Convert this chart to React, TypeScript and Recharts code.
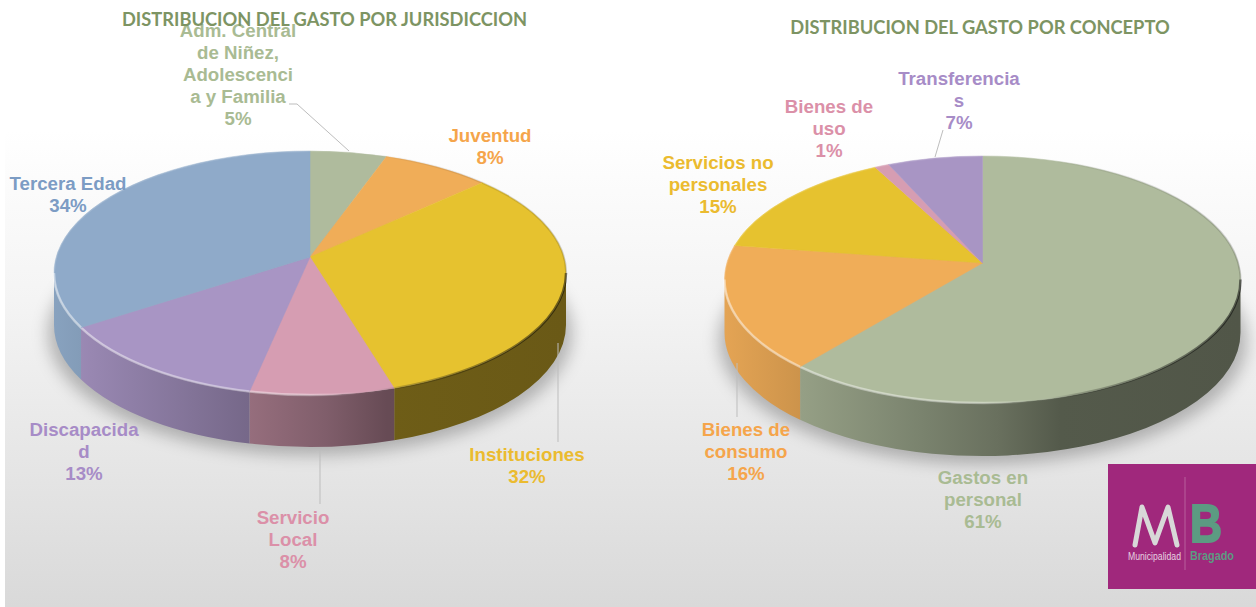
import React from 'react';
import { PieChart, Pie } from 'recharts';

// first chart: gasto por jurisdiccion
const jurisdiccionNames = ['Adm. Central de Niñez', 'Juventud', 'Instituciones', 'Servicio Local', 'Discapacidad', 'Tercera Edad'];
const jurisdiccionValues = [5.4, 7.6, 32.3, 8.3, 12.8, 33.9];
const jurisdiccionLines = [
  ['Adm. Central', 'de Niñez,', 'Adolescenci', 'a y Familia'],
  ['Juventud'],
  ['Instituciones'],
  ['Servicio', 'Local'],
  ['Discapacida', 'd'],
  ['Tercera Edad'],
];

// second chart: gasto por concepto
const conceptoNames = ['Gastos en personal', 'Bienes de consumo', 'Servicios no personales', 'Bienes de uso', 'Transferencias'];
const conceptoValues = [61.4, 16.4, 14.6, 1.0, 6.6];
const conceptoLines = [
  ['Gastos en', 'personal'],
  ['Bienes de', 'consumo'],
  ['Servicios no', 'personales'],
  ['Bienes de', 'uso'],
  ['Transferencia', 's'],
];

const jurisdiccionFills = ['#afbb9d', '#f0ad58', '#e6c22f', '#d69db2', '#a895c4', '#8faac9'];
const jurisdiccionText = ['#a9bb93', '#f5a54b', '#ebbb2f', '#db90a8', '#a78cc7', '#7c9cc4'];
const conceptoFills = ['#afbb9d', '#f0ad58', '#e6c22f', '#d69db2', '#a895c4'];
const conceptoText = ['#a9bb93', '#f5a54b', '#ebbb2f', '#db90a8', '#a78cc7'];

// label anchors: [center x, first baseline] in chart coordinates
const jurisdiccionSpots = [[238, 37], [490, 142], [527, 461], [293, 524], [84, 436], [68, 190]];
const conceptoSpots = [[355, 484], [118, 436], [90, 169], [201, 113], [331, 85]];

// leader lines as svg points, chart coordinates
const jurisdiccionLeaders = ['289,104 297,104 349,151', null, '558,343 558,442', '320,450 320,504', null, null];
const conceptoLeaders = [null, '109,363 109,417', null, null, '315,130 307,157'];

const wallLight = [[0, 0.95], [0.15, 0.85], [0.38, 0.7], [0.53, 0.6], [0.65, 0.48], [1, 0.46]];

const shade = (hex: string, k: number) => {
  const n = parseInt(hex.slice(1), 16);
  const c = (v: number) => Math.round(v * k);
  return `rgb(${c((n >> 16) & 255)},${c((n >> 8) & 255)},${c(n & 255)})`;
};

// perspective: the near side of the tilted disc looks stretched
const warp = (deg: number) => {
  const t = 90 - deg;
  return 90 - (t - 6 * Math.sin((t * Math.PI) / 180));
};

const LINE_H = 22;

interface Pie3DProps {
  id: string;
  left: number;
  names: string[];
  values: number[];
  fills: string[];
  textColors: string[];
  lines: string[][];
  spots: number[][];
  leaders: (string | null)[];
  cx: number;
  cy: number;
  rx: number;
  ry: number;
  apexLift: number;
  depth: number;
}

function Pie3D(props: Pie3DProps) {
  const { id, left, names, values, fills, textColors, lines, spots, leaders, cx, cy, rx, ry, apexLift, depth } = props;
  const data = names.map((name, i) => ({ name, value: values[i], fill: fills[i] }));

  const pt = (deg: number, dy = 0) => {
    const a = (deg * Math.PI) / 180;
    return `${(cx + rx * Math.cos(a)).toFixed(2)} ${(cy - ry * Math.sin(a) + dy).toFixed(2)}`;
  };

  const renderWall = (s: any) => {
    const a0 = Math.min(warp(s.startAngle), 0);
    const a1 = Math.max(warp(s.endAngle), -180);
    if (a0 <= a1) return <g />;
    const gid = `${id}-wall-${s.fill.slice(1)}`;
    const d = `M ${pt(a0)} A ${rx} ${ry} 0 0 1 ${pt(a1)} L ${pt(a1, depth)} A ${rx} ${ry} 0 0 0 ${pt(a0, depth)} Z`;
    return (
      <g>
        <defs>
          <linearGradient id={gid} gradientUnits="userSpaceOnUse" x1={cx - rx} x2={cx + rx} y1={0} y2={0}>
            {wallLight.map(([o, k]) => (
              <stop key={o} offset={o} stopColor={shade(s.fill, k)} />
            ))}
          </linearGradient>
        </defs>
        <path d={d} fill={`url(#${gid})`} />
      </g>
    );
  };

  const renderTop = (s: any) => {
    const start = warp(s.startAngle);
    const end = warp(s.endAngle);
    const large = start - end > 180 ? 1 : 0;
    const arc = `M ${pt(start)} A ${rx} ${ry} 0 ${large} 1 ${pt(end)}`;
    const low0 = Math.min(start, 0);
    const low1 = Math.max(end, -180);
    return (
      <g>
        <defs>
          <linearGradient id={`${id}-rim`} gradientUnits="userSpaceOnUse" x1={cx - rx} x2={cx + rx} y1={0} y2={0}>
            <stop offset={0} stopColor="#fff" stopOpacity={0.4} />
            <stop offset={0.5} stopColor="#fff" stopOpacity={0.3} />
            <stop offset={0.6} stopColor="#fff" stopOpacity={0} />
            <stop offset={0.68} stopColor="#000" stopOpacity={0.15} />
            <stop offset={1} stopColor="#000" stopOpacity={0.45} />
          </linearGradient>
        </defs>
        <path d={`M ${cx} ${cy - apexLift} L ${arc.slice(2)} Z`} fill={s.fill} stroke={s.fill} strokeWidth={0.5} />
        <path d={arc} fill="none" stroke={`url(#${id}-rim)`} strokeOpacity={0.35} strokeWidth={2} />
        {low0 > low1 && (
          <path d={`M ${pt(low0)} A ${rx} ${ry} 0 0 1 ${pt(low1)}`} fill="none" stroke={`url(#${id}-rim)`} strokeWidth={2.5} />
        )}
      </g>
    );
  };

  const renderLabel = (p: any) => {
    const i = p.index;
    const [x, y] = spots[i];
    const rows = [...lines[i], `${Math.round(values[i])}%`];
    return (
      <g key={names[i]}>
        {leaders[i] && <polyline points={leaders[i] as string} fill="none" stroke="#bdbdbd" strokeWidth={1} />}
        <text x={x} y={y} textAnchor="middle" fill={textColors[i]} fontFamily="Liberation Sans" fontWeight="bold" fontSize={18.7}>
          {rows.map((r, k) => (
            <tspan key={k} x={x} y={y + k * LINE_H}>{r}</tspan>
          ))}
        </text>
      </g>
    );
  };

  return (
    <div style={{ position: 'absolute', left, top: 0 }}>
      <div
        style={{
          position: 'absolute',
          left: cx - rx - 6,
          top: cy - ry + depth + 8,
          width: 2 * rx + 12,
          height: 2 * ry,
          borderRadius: '50%',
          background: 'rgba(0,0,0,0.25)',
          filter: 'blur(8px)',
        }}
      />
      <PieChart width={628} height={607} style={{ position: 'relative' }}>
        <Pie
          data={data}
          dataKey="value"
          cx={cx}
          cy={cy}
          outerRadius={rx}
          startAngle={90}
          endAngle={-270}
          stroke="none"
          shape={renderWall}
          isAnimationActive={false}
        />
        <Pie
          data={data}
          dataKey="value"
          cx={cx}
          cy={cy}
          outerRadius={rx}
          startAngle={90}
          endAngle={-270}
          stroke="none"
          shape={renderTop}
          label={renderLabel}
          labelLine={false}
          isAnimationActive={false}
        />
      </PieChart>
    </div>
  );
}

function Title({ text, center, top }: { text: string; center: number; top: number }) {
  return (
    <div
      style={{
        position: 'absolute',
        left: center - 300,
        width: 600,
        top,
        textAlign: 'center',
        font: 'bold 18.3px Lato',
        color: '#7d9463',
        whiteSpace: 'nowrap',
      }}
    >
      {text}
    </div>
  );
}

function Logo() {
  return (
    <svg width={148} height={125} style={{ position: 'absolute', left: 1108, top: 464 }} viewBox="1108 464 148 125">
      <rect x={1108} y={464} width={148} height={125} fill="#a0287c" />
      <line x1={1185} x2={1185} y1={477} y2={570} stroke="#fff" strokeOpacity={0.25} />
      <polyline points="1135,545 1142,507 1155,543 1168,507 1177,545" fill="none" stroke="#d8d8d8" strokeWidth={5} strokeLinecap="round" strokeLinejoin="round" />
      <text x={1190} y={542} fontFamily="Liberation Sans" fontWeight="bold" fontSize={53} fill="#5c9b82" stroke="#5c9b82" strokeWidth={2} textLength={32} lengthAdjust="spacingAndGlyphs">B</text>
      <text x={1128} y={560} fontFamily="Liberation Sans" fontSize={10} fill="#e6d3e0" textLength={53} lengthAdjust="spacingAndGlyphs">Municipalidad</text>
      <text x={1190} y={560} fontFamily="Liberation Sans" fontWeight="bold" fontSize={12} fill="#5c9b82" textLength={44} lengthAdjust="spacingAndGlyphs">Bragado</text>
    </svg>
  );
}

export default function App() {
  return (
    <div style={{ position: 'fixed', left: 0, top: 0, width: 1256, height: 607, overflow: 'hidden', background: '#fff' }}>
      <div
        style={{
          position: 'absolute',
          left: 5,
          top: 0,
          right: 0,
          bottom: 0,
          background: 'linear-gradient(#ffffff 0px, #ffffff 130px, #f4f4f4 300px, #d9d9d9 607px)',
        }}
      />
      <Pie3D
        id="jur"
        left={0}
        names={jurisdiccionNames}
        values={jurisdiccionValues}
        fills={jurisdiccionFills}
        textColors={jurisdiccionText}
        lines={jurisdiccionLines}
        spots={jurisdiccionSpots}
        leaders={jurisdiccionLeaders}
        cx={310}
        cy={273}
        rx={256}
        ry={122}
        apexLift={16}
        depth={52}
      />
      <Pie3D
        id="con"
        left={628}
        names={conceptoNames}
        values={conceptoValues}
        fills={conceptoFills}
        textColors={conceptoText}
        lines={conceptoLines}
        spots={conceptoSpots}
        leaders={conceptoLeaders}
        cx={354.5}
        cy={279.5}
        rx={258}
        ry={123.5}
        apexLift={16.5}
        depth={53}
      />
      <Title text="DISTRIBUCION DEL GASTO POR JURISDICCION" center={324.5} top={8} />
      <Title text="DISTRIBUCION DEL GASTO POR CONCEPTO" center={980} top={16} />
      <Logo />
    </div>
  );
}
